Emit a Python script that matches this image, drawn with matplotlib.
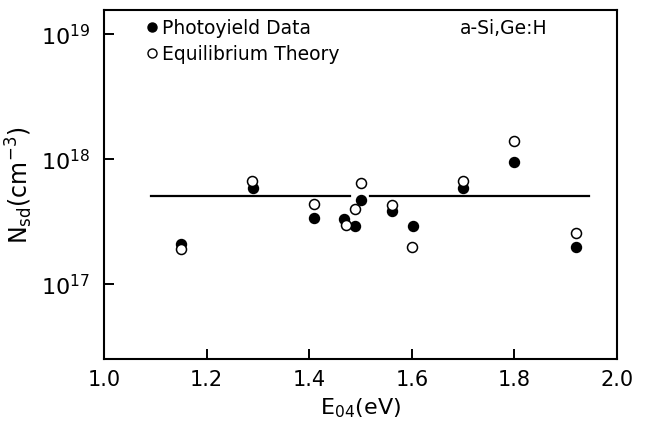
import numpy as np
import matplotlib
matplotlib.use("Agg")
import matplotlib.pyplot as plt
from matplotlib.ticker import FixedLocator, FixedFormatter

# photoyield data (filled) and equilibrium theory (open)
e04_photo = [1.15, 1.29, 1.41, 1.468, 1.49, 1.50, 1.561, 1.603, 1.70, 1.80, 1.92]
nsd_photo = [2.09e17, 5.8e17, 3.36e17, 3.27e17, 2.9e17, 4.7e17, 3.8e17, 2.9e17, 5.86e17, 9.5e17, 1.97e17]

e04_theory = [1.15, 1.289, 1.41, 1.471, 1.489, 1.50, 1.561, 1.60, 1.70, 1.80, 1.92]
nsd_theory = [1.91e17, 6.7e17, 4.37e17, 2.97e17, 3.98e17, 6.43e17, 4.3e17, 1.96e17, 6.7e17, 1.38e18, 2.57e17]

# horizontal average line, drawn in two pieces (gap around 1.5)
avg_value = 5e17
avg_segments = [(1.092, 1.48), (1.518, 1.945)]

xticks = [1.0, 1.2, 1.4, 1.6, 1.8, 2.0]
xtick_labels = ["1.0", "1.2", "1.4", "1.6", "1.8", "2.0"]
yticks = [1e17, 1e18, 1e19]
ytick_labels = [r"$10^{17}$", r"$10^{18}$", r"$10^{19}$"]

fig = plt.figure(figsize=(6.51, 4.27), dpi=100)
ax = fig.add_axes([0.1598, 0.1569, 0.788, 0.8173])

for x0, x1 in avg_segments:
    ax.plot([x0, x1], [avg_value, avg_value], color="black", lw=1.6)

ax.plot(e04_photo, nsd_photo, "o", color="black", ms=7.2, ls="none")
ax.plot(e04_theory, nsd_theory, "o", mfc="white", mec="black", mew=1.1, ms=7.2, ls="none")

ax.set_yscale("log")
ax.set_xlim(1.0, 2.0)
ax.set_ylim(2.5e16, 1.55e19)

ax.xaxis.set_major_locator(FixedLocator(xticks))
ax.xaxis.set_major_formatter(FixedFormatter(xtick_labels))
ax.yaxis.set_major_locator(FixedLocator(yticks))
ax.yaxis.set_major_formatter(FixedFormatter(ytick_labels))
ax.yaxis.set_minor_locator(FixedLocator([]))

ax.tick_params(direction="in", length=7, width=1.4, labelsize=15, top=False, right=False)
ax.tick_params(axis="x", pad=7)
ax.tick_params(axis="y", pad=10, labelsize=16)
for s in ax.spines.values():
    s.set_linewidth(1.5)

ax.set_xlabel(r"E$_{\mathrm{04}}$(eV)", fontsize=16, labelpad=5)
ax.set_ylabel(r"N$_{\mathrm{sd}}$(cm$^{-3}$)", fontsize=17, labelpad=4)

# legend drawn by hand to match the original layout
ax.plot([1.094], [1.13e19], "o", color="black", ms=6.5, clip_on=False)
ax.plot([1.094], [7.0e18], "o", mfc="white", mec="black", mew=1.0, ms=6.5, clip_on=False)
ax.text(1.1125, 1.13e19, "Photoyield Data", fontsize=13.5, va="center", ha="left")
ax.text(1.1125, 7.0e18, "Equilibrium Theory", fontsize=13.5, va="center", ha="left")
ax.text(1.865, 1.13e19, "a-Si,Ge:H", fontsize=13.5, va="center", ha="right")

fig.savefig("out.png", dpi=100)
